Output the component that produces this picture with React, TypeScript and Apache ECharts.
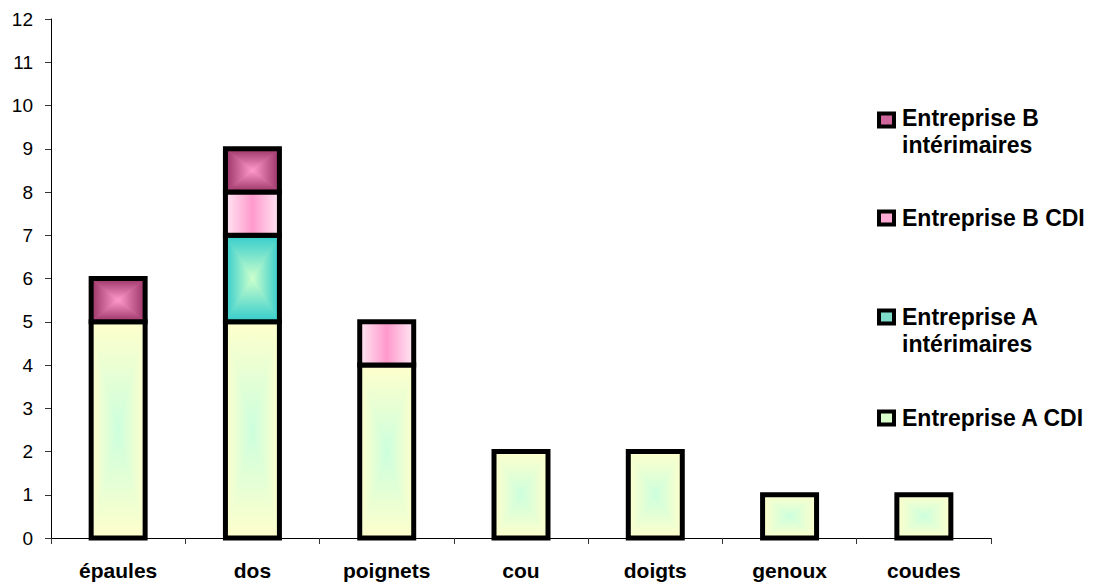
import React, { useEffect, useRef } from 'react';
import * as echarts from 'echarts';

// Body-part categories along the x axis
const categories = ['épaules', 'dos', 'poignets', 'cou', 'doigts', 'genoux', 'coudes'];

// Stacked counts per workforce group (bottom to top)
const seriesNames = [
  'Entreprise A CDI',
  'Entreprise A intérimaires',
  'Entreprise B CDI',
  'Entreprise B intérimaires',
];
const aCdi = [5, 5, 4, 2, 2, 1, 1];
const aInterim = [0, 2, 0, 0, 0, 0, 0];
const bCdi = [0, 1, 1, 0, 0, 0, 0];
const bInterim = [1, 1, 0, 0, 0, 0, 0];

// Legend labels, top entry first
const legendOrder = [3, 2, 1, 0];
const legendLabels = [
  'Entreprise A CDI',
  'Entreprise A\nintérimaires',
  'Entreprise B CDI',
  'Entreprise B\nintérimaires',
];

const yMin = 0;
const yMax = 12;
const yStep = 1;

type Fill = { kind: 'box' | 'horizontal'; edge: string; center: string; swatch: string };
const fills: Fill[] = [
  { kind: 'box', edge: '#FFFFCC', center: '#CCFFDD', swatch: '#D8FFCC' },
  { kind: 'box', edge: '#33CCCC', center: '#CCFFCC', swatch: '#7FDDCC' },
  { kind: 'horizontal', edge: '#FFE8F3', center: '#FF99CC', swatch: '#FFAAD4' },
  { kind: 'box', edge: '#993366', center: '#FF99CC', swatch: '#D0669C' },
];

const FONT = '"Liberation Sans", Arial, Helvetica, sans-serif';

function lin(x: number, y: number, x2: number, y2: number, c0: string, c1: string) {
  return {
    type: 'linear',
    x,
    y,
    x2,
    y2,
    colorStops: [
      { offset: 0, color: c0 },
      { offset: 1, color: c1 },
    ],
  };
}

function makeRenderItem(fill: Fill) {
  return (_params: any, api: any) => {
    const cat = api.value(0);
    const lo = api.value(1);
    const hi = api.value(2);
    const pLo = api.coord([cat, lo]);
    const pHi = api.coord([cat, hi]);
    const w = api.size([1, 0])[0] * 0.402;
    const cx = pLo[0];
    const x0 = cx - w / 2;
    const x1 = cx + w / 2;
    const y0 = pHi[1];
    const y1 = pLo[1];
    const cy = (y0 + y1) / 2;
    const children: any[] = [];
    if (fill.kind === 'box') {
      const tri = (pts: number[][], g: any) => ({
        type: 'polygon',
        shape: { points: pts },
        style: { fill: g, stroke: g, lineWidth: 1 },
      });
      children.push(
        {
          type: 'rect',
          shape: { x: x0, y: y0, width: w, height: y1 - y0 },
          style: { fill: fill.center },
        },
        tri([[x0, y0], [x0, y1], [cx, cy]], lin(0, 0, 1, 0, fill.edge, fill.center)),
        tri([[x1, y0], [x1, y1], [cx, cy]], lin(0, 0, 1, 0, fill.center, fill.edge)),
        tri([[x0, y0], [x1, y0], [cx, cy]], lin(0, 0, 0, 1, fill.edge, fill.center)),
        tri([[x0, y1], [x1, y1], [cx, cy]], lin(0, 0, 0, 1, fill.center, fill.edge))
      );
    } else {
      children.push({
        type: 'rect',
        shape: { x: x0, y: y0, width: w, height: y1 - y0 },
        style: {
          fill: {
            type: 'linear',
            x: 0,
            y: 0,
            x2: 1,
            y2: 0,
            colorStops: [
              { offset: 0, color: fill.edge },
              { offset: 0.5, color: fill.center },
              { offset: 1, color: fill.edge },
            ],
          },
        },
      });
    }
    children.push({
      type: 'rect',
      shape: { x: x0, y: y0, width: w, height: y1 - y0 },
      style: { fill: 'none', stroke: '#000000', lineWidth: 5 },
    });
    return { type: 'group', children };
  };
}

export default function App() {
  const ref = useRef<HTMLDivElement>(null);

  useEffect(() => {
    document.body.style.margin = '0';
    if (!ref.current) return;
    const chart = echarts.init(ref.current, undefined, { renderer: 'svg' });

    const groups = [aCdi, aInterim, bCdi, bInterim];
    const base = categories.map(() => 0);
    const series = groups.map((vals, si) => {
      const data: number[][] = [];
      vals.forEach((v, ci) => {
        if (v > 0) data.push([ci, base[ci], base[ci] + v]);
        base[ci] += v;
      });
      return {
        type: 'custom',
        name: seriesNames[si],
        encode: { x: 0, y: [1, 2] },
        data,
        renderItem: makeRenderItem(fills[si]),
      };
    });

    const legendCenters = [118, 218, 317, 418];
    const iconCenters = [120, 218, 317, 418];
    const legendGraphics: any[] = [];
    legendOrder.forEach((si, row) => {
      legendGraphics.push({
        type: 'rect',
        shape: { x: 879, y: iconCenters[row] - 6.5, width: 15, height: 13 },
        style: { fill: fills[si].swatch, stroke: '#000000', lineWidth: 4 },
      });
      legendGraphics.push({
        type: 'text',
        x: 902,
        y: legendCenters[row] - 13.5,
        style: {
          text: legendLabels[si],
          font: `bold 23px ${FONT}`,
          lineHeight: 27,
          fill: '#000000',
          verticalAlign: 'top',
          align: 'left',
        },
      });
    });

    chart.setOption({
      animation: false,
      backgroundColor: '#ffffff',
      grid: { left: 51, top: 19, right: 102, bottom: 47, containLabel: false },
      xAxis: {
        type: 'category',
        data: categories,
        axisLine: { show: true, lineStyle: { color: '#000000', width: 1 } },
        axisTick: { show: true, alignWithLabel: false, length: 6, lineStyle: { color: '#333333' } },
        axisLabel: {
          color: '#000000',
          fontFamily: FONT,
          fontWeight: 'bold',
          fontSize: 21,
          margin: 22,
        },
        splitLine: { show: false },
      },
      yAxis: {
        type: 'value',
        min: yMin,
        max: yMax,
        interval: yStep,
        axisLine: { show: true, lineStyle: { color: '#000000', width: 1 } },
        axisTick: { show: true, length: 6, lineStyle: { color: '#333333' } },
        axisLabel: { color: '#000000', fontFamily: FONT, fontSize: 19, margin: 18 },
        splitLine: { show: false },
      },
      series,
      graphic: legendGraphics,
    });

    return () => chart.dispose();
  }, []);

  return <div ref={ref} style={{ width: 1093, height: 585 }} />;
}
